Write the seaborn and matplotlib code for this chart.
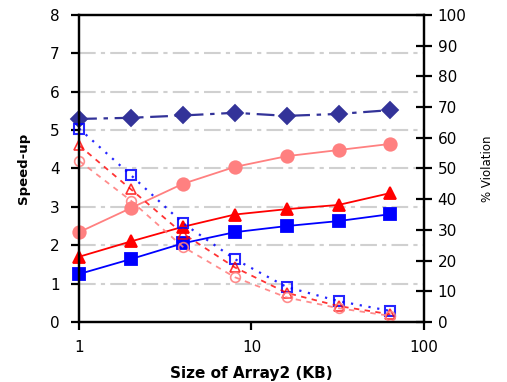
import matplotlib
matplotlib.use("Agg")
import matplotlib.pyplot as plt
import seaborn as sns
import pandas as pd

# Array2 sizes (KB)
sizes = [1, 2, 4, 8, 16, 32, 64]

# Speed-up series (left axis)
speedup_diamond = [5.29, 5.32, 5.38, 5.45, 5.37, 5.42, 5.52]
speedup_circle = [2.34, 2.97, 3.60, 4.04, 4.32, 4.48, 4.64]
speedup_triangle = [1.70, 2.10, 2.48, 2.80, 2.94, 3.05, 3.36]
speedup_square = [1.25, 1.64, 2.05, 2.34, 2.50, 2.63, 2.81]

# Violation series (right axis, %)
viol_square = [63.0, 47.8, 32.2, 20.5, 11.4, 6.8, 3.6]
viol_triangle = [57.5, 43.2, 28.8, 17.8, 9.5, 5.2, 2.5]
viol_circle = [52.5, 39.5, 24.5, 14.6, 8.0, 4.5, 2.0]

speed_ticks = [0, 1, 2, 3, 4, 5, 6, 7, 8]
viol_ticks = [0, 10, 20, 30, 40, 50, 60, 70, 80, 90, 100]
x_ticks = [1, 10, 100]
x_ticklabels = ["1", "10", "100"]

sns.set_style("white")
plt.rcParams["font.family"] = ["DejaVu Sans"]
plt.rcParams["text.color"] = "black"
plt.rcParams["axes.labelcolor"] = "black"
plt.rcParams["xtick.color"] = "black"
plt.rcParams["ytick.color"] = "black"

NAVY = "#333399"
BLUE = "#0000FF"
RED = "#FF0000"
PINK = "#FF8080"

fig = plt.figure(figsize=(5.07, 3.82), dpi=100)
ax = fig.add_axes([0.156, 0.157, 0.680, 0.804])
ax2 = ax.twinx()

# horizontal reference lines
for v in speed_ticks[1:-1]:
    ax.axhline(v, color="#d0d0d0", lw=1.5, ls=(0, (8, 2.5, 2, 2.5)), zorder=0)

def draw(axis, y, color, marker, ls, ms, filled=True, lw=1.3, mew=1.3, alpha=1.0):
    df = pd.DataFrame({"x": sizes, "y": y})
    sns.lineplot(data=df, x="x", y="y", ax=axis, color=color, marker=marker,
                 linestyle=ls, lw=lw, markersize=ms, alpha=alpha,
                 markerfacecolor=color if filled else "none",
                 markeredgecolor=color, markeredgewidth=mew, clip_on=False)

# speed-up lines
draw(ax, speedup_diamond, NAVY, "D", (0, (8, 3, 2, 3)), 8, lw=1.6)
draw(ax, speedup_circle, PINK, "o", "-", 9)
draw(ax, speedup_triangle, RED, "^", "-", 9)
draw(ax, speedup_square, BLUE, "s", "-", 9)

# violation lines
draw(ax2, viol_square, BLUE, "s", (0, (1, 3)), 6.5, filled=False, lw=1.6, mew=1.5, alpha=0.85)
draw(ax2, viol_triangle, RED, "^", (0, (3, 3)), 6.5, filled=False, lw=1.3, mew=1.2, alpha=0.8)
draw(ax2, viol_circle, PINK, "o", (0, (3, 3)), 7.0, filled=False, lw=1.3, mew=1.2, alpha=0.9)

ax.set_xscale("log")
ax.set_xlim(1, 100)
ax.set_ylim(0, 8)
ax2.set_ylim(0, 100)
ax.set_xticks(x_ticks)
ax.set_xticklabels(x_ticklabels)
ax.xaxis.set_minor_locator(matplotlib.ticker.NullLocator())
ax.set_yticks(speed_ticks)
ax2.set_yticks(viol_ticks)

for a in (ax, ax2):
    for s in a.spines.values():
        s.set_color("black")
        s.set_linewidth(1.6)

ax.tick_params(axis="y", direction="out", length=6, width=1.6, pad=8,
               labelsize=11, left=True)
ax.tick_params(axis="x", direction="out", length=6, width=1.6, pad=7,
               labelsize=11, bottom=True)
ax2.tick_params(axis="y", direction="inout", length=12, width=1.6, pad=4,
                labelsize=11, right=True)

ax.set_xlabel("Size of Array2 (KB)", fontsize=11, fontweight="bold", labelpad=8)
ax.set_ylabel("Speed-up", fontsize=9.5, fontweight="semibold", labelpad=14)
ax2.set_ylabel("% Violation", fontsize=8.5, labelpad=10)

fig.savefig("out.png", dpi=100)
